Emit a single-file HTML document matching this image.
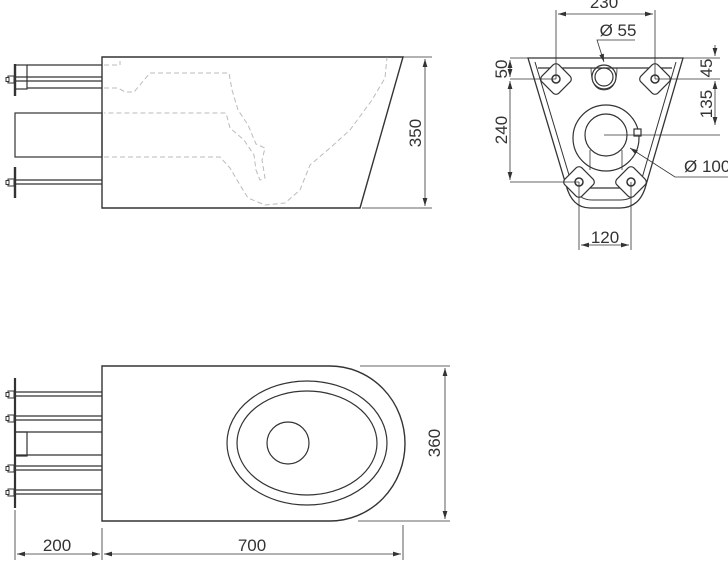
<!DOCTYPE html>
<html><head><meta charset="utf-8"><style>
html,body{margin:0;padding:0;background:#fff}
svg{display:block}
text{font-family:"Liberation Sans","DejaVu Sans",sans-serif;font-size:17px;fill:#333}
</style></head><body>
<svg width="728" height="570" viewBox="0 0 728 570" xmlns="http://www.w3.org/2000/svg">
<defs>
<marker id="a" viewBox="0 0 10 6" refX="10" refY="3" markerWidth="10" markerHeight="6" orient="auto-start-reverse"><path d="M0,0L10,3L0,6z" fill="#333"/></marker>
<g id="nut"><rect x="8" y="-3" width="6" height="7" fill="#fff" stroke="#333" stroke-width="1"/><rect x="6" y="-1.5" width="3" height="4" fill="#fff" stroke="#333" stroke-width="1"/></g>
<g id="dia"><rect x="-12" y="-12" width="24" height="24" rx="4" transform="rotate(45)" fill="#fff" stroke="#333" stroke-width="1.2"/><circle r="4" fill="#fff" stroke="#333" stroke-width="1.5"/></g>
</defs>
<g fill="none" stroke="#333" stroke-width="1.2">
<path d="M102,57H403L360,208H102Z" stroke-width="1.4"/>
<rect x="15" y="113" width="87" height="44"/>
<rect x="15" y="65" width="12" height="24"/>
<path d="M27,65H102M27,88H102M15,77H102M15,81H102"/>
<path d="M15,64V96M15,167V198" stroke-width="2.4"/>
<path d="M15,180H102M15,184H102"/>
<use href="#nut" y="79"/><use href="#nut" y="182"/>
<g stroke="#bbb" stroke-dasharray="5,3" stroke-width="1">
<path d="M104,65H120V61"/>
<path d="M104,88H118L125,92H134L150,73H229L232,90L238,110L248,125L256,144L265,148L262,160L265,178L260,180L256,170L254,155L244,140L230,128L226,113H104"/>
<path d="M104,157H220L230,168L240,185L248,198L265,205L285,203L300,190L310,165L330,148L350,130L372,100L385,78L387,57"/>
</g>
<path d="M385,57H432M362,208H432" stroke-width="0.8"/>
<path d="M425,59V206" stroke-width="0.8" marker-start="url(#a)" marker-end="url(#a)"/>
<path d="M528,58H683L646,185Q640,208 620,208H590Q572,208 566,185Z" stroke-width="1.3"/>
<path d="M535,62L572,185Q578,200 592,200H620Q636,200 640,185L676,62" stroke-width="1"/>
<path d="M538,68H672M578,188H634"/>
<circle cx="604" cy="77" r="12"/><circle cx="604" cy="77" r="9"/>
<path d="M591,68Q591,90 604,90Q617,90 617,68" stroke-width="0.8"/>
<circle cx="606" cy="138" r="33"/><circle cx="606" cy="135" r="21"/>
<path d="M590,150V170M622,150V170" stroke-width="0.8"/>
<rect x="634" y="129" width="7" height="7" fill="#fff"/>
</g>
<use href="#dia" x="556" y="79"/><use href="#dia" x="655" y="79"/>
<use href="#dia" x="579" y="182"/><use href="#dia" x="631" y="182"/>
<g fill="none" stroke="#333" stroke-width="0.8">
<path d="M556,10V79M655,10V79"/>
<path d="M558,14H653" marker-start="url(#a)" marker-end="url(#a)"/>
<path d="M510,58H530M510,79H556M510,182H579" />
<path d="M510,60V77" marker-start="url(#a)" marker-end="url(#a)"/>
<path d="M510,81V180" marker-start="url(#a)" marker-end="url(#a)"/>
<path d="M683,58H720M655,79H720M640,135H720M604,135H640"/>
<path d="M715,45V56" marker-end="url(#a)"/>
<path d="M715,81V125" marker-start="url(#a)" marker-end="url(#a)"/>
<path d="M635,40H597L604,62" marker-end="url(#a)"/>
<path d="M728,177H675L630,148" marker-end="url(#a)"/>
<path d="M579,182V250M631,182V250"/>
<path d="M581,245H629" marker-start="url(#a)" marker-end="url(#a)"/>
</g>
<g fill="none" stroke="#333" stroke-width="1.2">
<path d="M102,366H330A75,77.5 0 0 1 330,521H102Z" stroke-width="1.4"/>
<ellipse cx="307" cy="443" rx="80" ry="62"/>
<ellipse cx="307" cy="443" rx="70" ry="52"/>
<circle cx="288" cy="443" r="21"/>
<path d="M15,392H102M15,396H102M15,416H102M15,420H102M15,466H102M15,470H102M15,490H102M15,494H102"/>
<path d="M15,432H102M15,455H102"/>
<rect x="15" y="432" width="12" height="24"/>
<path d="M15,378V508" stroke-width="2.2"/>
</g>
<use href="#nut" y="394"/><use href="#nut" y="418"/><use href="#nut" y="468"/><use href="#nut" y="492"/>
<g fill="none" stroke="#333" stroke-width="0.8">
<path d="M360,366H450M358,521H450"/>
<path d="M445,368V519" marker-start="url(#a)" marker-end="url(#a)"/>
<path d="M15,510V560M102,528V560M403,525V560"/>
<path d="M17,554H100" marker-start="url(#a)" marker-end="url(#a)"/>
<path d="M104,554H401" marker-start="url(#a)" marker-end="url(#a)"/>
</g>
<text text-anchor="middle" transform="translate(421,133) rotate(-90)">350</text>
<text x="604" y="8" text-anchor="middle">230</text>
<text x="618" y="36" text-anchor="middle">Ø 55</text>
<text text-anchor="middle" transform="translate(507,69) rotate(-90)">50</text>
<text text-anchor="middle" transform="translate(507,130) rotate(-90)">240</text>
<text text-anchor="middle" transform="translate(712,68) rotate(-90)">45</text>
<text text-anchor="middle" transform="translate(712,104) rotate(-90)">135</text>
<text x="684" y="172">Ø 100</text>
<text x="605" y="243" text-anchor="middle">120</text>
<text text-anchor="middle" transform="translate(440,443) rotate(-90)">360</text>
<text x="57" y="551" text-anchor="middle">200</text>
<text x="252" y="551" text-anchor="middle">700</text>
</svg>
</body></html>
